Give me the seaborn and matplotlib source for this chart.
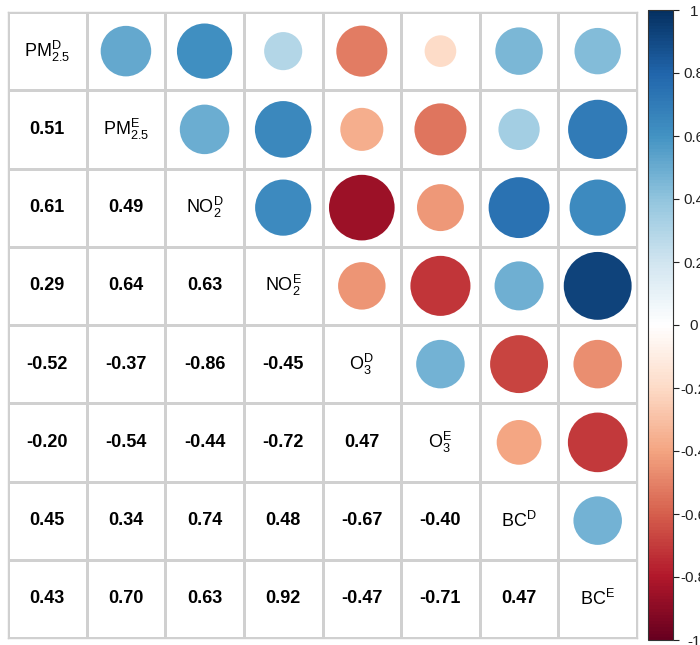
import numpy as np
import pandas as pd
import seaborn as sns
import matplotlib
matplotlib.use("Agg")
import matplotlib.pyplot as plt
from matplotlib.colors import LinearSegmentedColormap, ListedColormap, Normalize
from matplotlib.collections import EllipseCollection
from matplotlib.cm import ScalarMappable

# Variables (diagonal labels, mathtext)
variables = ["PM25_D", "PM25_E", "NO2_D", "NO2_E", "O3_D", "O3_E", "BC_D", "BC_E"]
diag_labels = [
    r"PM$_{\mathrm{2.5}}^{\mathrm{D}}$", r"PM$_{\mathrm{2.5}}^{\mathrm{E}}$",
    r"NO$_{\mathrm{2}}^{\mathrm{D}}$", r"NO$_{\mathrm{2}}^{\mathrm{E}}$",
    r"O$_{\mathrm{3}}^{\mathrm{D}}$", r"O$_{\mathrm{3}}^{\mathrm{E}}$",
    r"BC$^{\mathrm{D}}$", r"BC$^{\mathrm{E}}$",
]

# Lower-triangle Pearson correlations, row by row
lower_rows = [
    [],
    [0.51],
    [0.61, 0.49],
    [0.29, 0.64, 0.63],
    [-0.52, -0.37, -0.86, -0.45],
    [-0.20, -0.54, -0.44, -0.72, 0.47],
    [0.45, 0.34, 0.74, 0.48, -0.67, -0.40],
    [0.43, 0.70, 0.63, 0.92, -0.47, -0.71, 0.47],
]

cbar_ticks = [-1, -0.8, -0.6, -0.4, -0.2, 0, 0.2, 0.4, 0.6, 0.8, 1]
cbar_ticklabels = ["-1", "-0.8", "-0.6", "-0.4", "-0.2", "0", "0.2", "0.4", "0.6", "0.8", "1"]

n = len(variables)
corr = np.eye(n)
for i, row in enumerate(lower_rows):
    for j, v in enumerate(row):
        corr[i, j] = v
        corr[j, i] = v
corr_df = pd.DataFrame(corr, index=variables, columns=variables)

plt.rcParams["font.family"] = ["Liberation Sans", "DejaVu Sans"]
plt.rcParams["mathtext.fontset"] = "custom"
plt.rcParams["mathtext.rm"] = "Liberation Sans"
plt.rcParams["mathtext.it"] = "Liberation Sans:italic"
plt.rcParams["mathtext.bf"] = "Liberation Sans:bold"

# Diverging palette (RdBu with a pure white centre)
rdbu = LinearSegmentedColormap.from_list(
    "rdbu_white",
    ["#67001F", "#B2182B", "#D6604D", "#F4A582", "#FDDBC7", "#FFFFFF",
     "#D1E5F0", "#92C5DE", "#4393C3", "#2166AC", "#053061"], N=200)
norm = Normalize(vmin=-1, vmax=1)

W, H = 700, 645
fig = plt.figure(figsize=(W / 100, H / 100), dpi=100)
ax = fig.add_axes([8 / W, (H - 638) / H, 629 / W, 626 / H])

grid_kw = dict(cmap=ListedColormap(["white"]), cbar=False, linewidths=1.0,
               linecolor="#d0d0d0", xticklabels=False, yticklabels=False)

# Annotated lower triangle
annot = corr_df.map(lambda v: f"{v:.2f}")
mask_upper = np.triu(np.ones((n, n), dtype=bool))
sns.heatmap(corr_df, ax=ax, mask=mask_upper, annot=annot.values, fmt="",
            annot_kws={"fontsize": 13, "fontweight": "bold", "color": "black"},
            **grid_kw)
# Empty cells for the upper triangle + diagonal so the grid is complete
sns.heatmap(corr_df, ax=ax, mask=~mask_upper, **grid_kw)

for i, lab in enumerate(diag_labels):
    ax.text(i + 0.5, i + 0.5, lab, ha="center", va="center", fontsize=13, color="black")

# Circles in the upper triangle: diameter ~ sqrt(|r|)
offs, diam, vals = [], [], []
for i in range(n):
    for j in range(i + 1, n):
        r = corr[i, j]
        offs.append((j + 0.5, i + 0.5))
        diam.append(0.9 * np.sqrt(abs(r)))
        vals.append(r)
circles = EllipseCollection(diam, diam, np.zeros(len(diam)), units="x",
                            offsets=offs, offset_transform=ax.transData,
                            cmap=rdbu, norm=norm, linewidths=0)
circles.set_array(np.array(vals))
ax.add_collection(circles)

for s in ax.spines.values():
    s.set_visible(True)
    s.set_color("#d0d0d0")
    s.set_linewidth(1.0)

# Colour bar
cax = fig.add_axes([648 / W, (H - 640) / H, 25 / W, 630 / H])
cb = fig.colorbar(ScalarMappable(norm=norm, cmap=rdbu), cax=cax)
cb.set_ticks(cbar_ticks)
cb.set_ticklabels(cbar_ticklabels)
cb.outline.set_linewidth(0.8)
cb.outline.set_edgecolor("#333333")
cax.tick_params(axis="y", length=4, width=0.8, labelsize=11, pad=11, colors="#222222")
for t in cax.get_yticklabels():
    t.set_horizontalalignment("center")

fig.savefig("out.png", dpi=100)
